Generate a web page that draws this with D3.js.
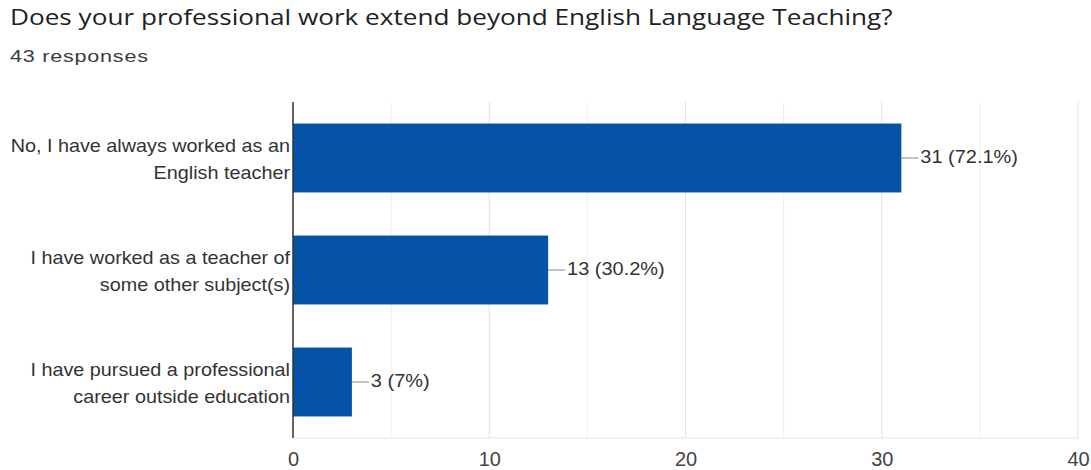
<!DOCTYPE html>
<html>
<head>
<meta charset="utf-8">
<script src="https://cdn.jsdelivr.net/npm/d3@7"></script>
<style>
  html, body { margin: 0; padding: 0; background: #fff; }
  svg { display: block; }
</style>
</head>
<body>
<svg id="chart" width="1091" height="470"></svg>
<script>
// Survey answers and counts
const categories = [
  ["No, I have always worked as an", "English teacher"],
  ["I have worked as a teacher of", "some other subject(s)"],
  ["I have pursued a professional", "career outside education"]
];
const counts = [31, 13, 3];
const percentLabels = ["72.1%", "30.2%", "7%"];
const majorTicks = [0, 10, 20, 30, 40];
const gridTicks = [5, 10, 15, 20, 25, 30, 35, 40];

const title = "Does your professional work extend beyond English Language Teaching?";
const subtitle = "43 responses";

const svg = d3.select("#chart");
const plot = { left: 293, right: 1078, top: 102, bottom: 438 };
const LABEL_FONT = "'Liberation Sans', Arial, sans-serif";

// widen glyphs horizontally around the text anchor x
function stretch(sel, sx, ax) {
  sel.attr("transform", `translate(${ax},0) scale(${sx},1) translate(${-ax},0)`);
}

const titleText = svg.append("text")
  .attr("x", 10).attr("y", 25)
  .attr("font-family", "'Open Sans', Roboto, sans-serif")
  .attr("font-size", 21)
  .attr("fill", "#202124")
  .text(title);
stretch(titleText, 1.245, 10);

const subText = svg.append("text")
  .attr("x", 10).attr("y", 62)
  .attr("font-family", LABEL_FONT)
  .attr("font-size", 17)
  .attr("letter-spacing", 0.6)
  .attr("fill", "#3c3c3c")
  .text(subtitle);
stretch(subText, 1.27, 10);

const x = d3.scaleLinear().domain([0, 40]).range([plot.left, plot.right]);
const y = d3.scaleBand()
  .domain(d3.range(categories.length))
  .range([plot.top, plot.bottom])
  .paddingInner(0.385)
  .paddingOuter(0.1925);

// vertical gridlines
svg.append("g")
  .selectAll("line")
  .data(gridTicks)
  .join("line")
  .attr("x1", d => x(d)).attr("x2", d => x(d))
  .attr("y1", plot.top).attr("y2", plot.bottom)
  .attr("stroke", d => d % 10 === 0 ? "#e3e3e3" : "#efefef")
  .attr("stroke-width", 1);

// baseline along the bottom
svg.append("line")
  .attr("x1", plot.left).attr("x2", plot.right)
  .attr("y1", plot.bottom).attr("y2", plot.bottom)
  .attr("stroke", "#e3e3e3");

// bars
svg.append("g")
  .selectAll("rect")
  .data(counts)
  .join("rect")
  .attr("x", x(0))
  .attr("y", (d, i) => y(i))
  .attr("width", d => x(d) - x(0))
  .attr("height", y.bandwidth())
  .attr("fill", "#0553a7");

// zero axis line
svg.append("line")
  .attr("x1", x(0)).attr("x2", x(0))
  .attr("y1", plot.top).attr("y2", plot.bottom)
  .attr("stroke", "#333")
  .attr("stroke-width", 1.5);

// value annotations with leader lines
const ann = svg.append("g")
  .selectAll("g")
  .data(counts)
  .join("g")
  .attr("transform", (d, i) => `translate(${x(d)},${y(i) + y.bandwidth() / 2})`);
ann.append("line")
  .attr("x1", 0).attr("x2", 17)
  .attr("y1", 0).attr("y2", 0)
  .attr("stroke", "#888").attr("stroke-width", 1);
ann.append("text")
  .attr("x", 19).attr("dy", "0.3em")
  .attr("font-family", LABEL_FONT)
  .attr("font-size", 18)
  .attr("fill", "#333")
  .text((d, i) => `${d} (${percentLabels[i]})`)
  .each(function() { stretch(d3.select(this), 1.11, 19); });

// category labels (two lines each)
const cat = svg.append("g")
  .selectAll("text")
  .data(categories)
  .join("text")
  .attr("text-anchor", "end")
  .attr("font-family", LABEL_FONT)
  .attr("font-size", 18)
  .attr("fill", "#333");
cat.each(function(lines, i) {
  const cy = y(i) + y.bandwidth() / 2;
  d3.select(this).selectAll("tspan")
    .data(lines)
    .join("tspan")
    .attr("x", plot.left - 3)
    .attr("y", (l, j) => cy + (j - 0.5) * 27)
    .attr("dy", "0.44em")
    .text(l => l);
  stretch(d3.select(this), 1.1, plot.left - 3);
});

// x axis tick labels
const xAxis = d3.axisBottom(x).tickValues(majorTicks).tickSize(0).tickPadding(14);
const gx = svg.append("g")
  .attr("transform", `translate(0,${plot.bottom})`)
  .call(xAxis);
gx.select(".domain").remove();
gx.selectAll("text")
  .attr("font-family", LABEL_FONT)
  .attr("font-size", 20)
  .attr("fill", "#444");
</script>
</body>
</html>
